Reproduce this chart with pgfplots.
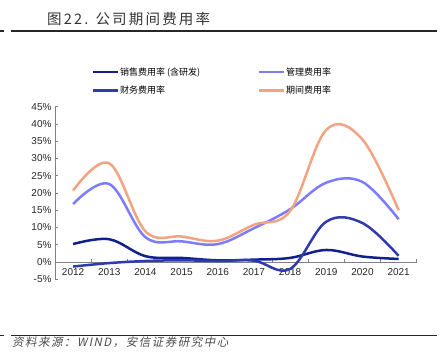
\documentclass[border=0pt]{standalone}
\usepackage{fontspec}
\setmainfont{Liberation Sans}
\newfontfamily\cjk{Noto Sans CJK SC}
\newfontfamily\cjktitle[LetterSpace=15]{Noto Sans CJK SC}
\newfontfamily\cjksrc[FakeSlant=0.2,LetterSpace=13]{Noto Sans CJK SC}
\usepackage{pgfplots}
\pgfplotsset{compat=1.18}
\definecolor{cXS}{HTML}{10208C}
\definecolor{cCW}{HTML}{2E3AAE}
\definecolor{cGL}{HTML}{7C7CFF}
\definecolor{cQJ}{HTML}{F2A482}
\definecolor{axgray}{HTML}{808080}
\begin{document}
\begin{tikzpicture}[x=1bp,y=1bp]
\path[use as bounding box] (0,0) rectangle (440,352);
\draw[line width=1.1bp, black!85] (11,321) -- (437,321);
\draw[line width=1.1bp, black!85] (0,321) -- (3.5,321);
\node[anchor=west, inner sep=0pt, text=black!80] at (47,333) {\fontsize{14.5bp}{16bp}\selectfont\cjktitle 图22. 公司期间费用率};
\draw[line width=1.1bp, black!85] (11,16.3) -- (437,16.3);
\draw[line width=1.1bp, black!85] (0,16.3) -- (3.5,16.3);
\node[anchor=west, inner sep=0pt, text=black!70] at (12,9.5) {\fontsize{11.5bp}{13bp}\selectfont\cjksrc 资料来源：WIND，安信证券研究中心};
\begin{axis}[
  at={(55bp,72.7bp)}, anchor=south west,
  scale only axis, width=361.7bp, height=172.6bp,
  xmin=-0.5, xmax=9.5, ymin=-5, ymax=45,
  axis x line=middle, axis y line=left,
  axis line style={-, draw=axgray, line width=0.8bp},
  xtick={0,1,2,3,4,5,6,7,8,9},
  xticklabels={2012,2013,2014,2015,2016,2017,2018,2019,2020,2021},
  xticklabel style={yshift=-3bp},
  major x tick style={draw=none},
  minor xtick={0.5,1.5,2.5,3.5,4.5,5.5,6.5,7.5,8.5,9.5},
  minor x tick style={draw=axgray, line width=0.8bp},
  ytick={-5,0,5,10,15,20,25,30,35,40,45},
  yticklabel={\pgfmathprintnumber{\tick}\%},
  y tick style={draw=axgray, line width=0.8bp},
  tick align=inside, major tick length=2.5bp, minor tick length=3bp,
  tick label style={font=\fontsize{10bp}{12bp}\selectfont, text=black!85},
  /pgf/number format/assume math mode=true,
  legend columns=2,
  legend cell align=left,
  legend style={at={(axis description cs:0.102,1.232)}, anchor=north west,
    draw=none, fill=none, inner sep=0pt, row sep=8bp,
    font=\fontsize{9bp}{10bp}\selectfont\cjk,
    nodes={inner sep=0.6bp},
    /tikz/every even column/.append style={column sep=57bp}},
  legend image code/.code={\draw[#1, line width=2.5bp] (0bp,0bp) -- (25bp,0bp);},
  every axis plot/.append style={line width=2.5bp, smooth, tension=0.6, no markers},
]
\addplot[color=cXS] coordinates {(0,5.2) (1,6.6) (2,1.7) (3,1.2) (4,0.5) (5,0.7) (6,1.2) (7,3.5) (8,1.6) (9,0.9)};
\addlegendentry{销售费用率 (含研发)}
\addplot[color=cGL] coordinates {(0,16.8) (1,22.6) (2,7.2) (3,6.0) (4,5.2) (5,9.8) (6,15.3) (7,23.0) (8,23.2) (9,12.4)};
\addlegendentry{管理费用率}
\addplot[color=cCW] coordinates {(0,-1.3) (1,-0.3) (2,0.3) (3,0.5) (4,0.3) (5,0.4) (6,-2.0) (7,11.7) (8,11.3) (9,1.8)};
\addlegendentry{财务费用率}
\addplot[color=cQJ] coordinates {(0,20.7) (1,28.6) (2,8.9) (3,7.4) (4,6.2) (5,10.8) (6,14.8) (7,38.3) (8,35.5) (9,15.0)};
\addlegendentry{期间费用率}
\end{axis}
\end{tikzpicture}
\end{document}
